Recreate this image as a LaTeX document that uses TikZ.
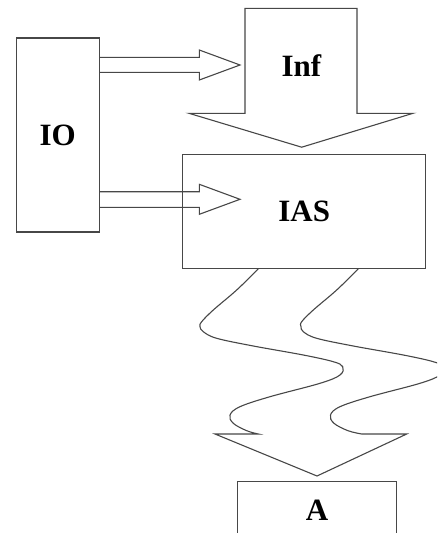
\documentclass[tikz,border=0pt]{standalone}
\usepackage{fontspec}
\setmainfont{Liberation Serif}
\begin{document}
\begin{tikzpicture}[x=1pt,y=-1pt,
  edge/.style={draw=black!72, line width=1.1pt, line join=miter},
  box/.style={edge, rectangle, inner sep=0pt},
  lbl/.style={font=\bfseries\fontsize{31}{31}\selectfont, inner sep=0pt}]
\useasboundingbox (0,0) rectangle (437,533);
\clip (0,0) rectangle (437,533);

% boxes
\node[box, lbl, minimum width=83.3pt, minimum height=194pt] (io) at (57.7,135) {IO};
\node[box, lbl, minimum width=243pt, minimum height=114.3pt] (ias) at (304.2,211.2) {IAS};
\node[box, minimum width=159.4pt, minimum height=80pt, anchor=north] (a) at (317,480.7) {};
\node[lbl, anchor=base] (alabel) at (317,520) {A};

% big downward block arrow carrying the Inf label
\coordinate (inftip) at (ias.north -| 301.7,0);
\draw[edge] (245,8.3) -- (357,8.3) -- (357,113.3) -- (413,113.3)
  -- ([yshift=6.3pt]inftip) -- (189,113.3) -- (245,113.3) -- cycle;
\node[lbl, anchor=base] (inf) at (301.5,76) {Inf};

% hollow arrows from IO
\draw[edge] (io.east |- 0,57.3) -- (199.3,57.3) -- (199.3,50) -- (240,65)
  -- (199.3,80) -- (199.3,72.3) -- (io.east |- 0,72.3);
\draw[edge] (io.east |- 0,191.7) -- (199.3,191.7) -- (199.3,184.3) -- (240,199.3)
  -- (199.3,214.3) -- (199.3,207.3) -- (io.east |- 0,207.3);

% wavy arrow from IAS down to A
\draw[edge] plot[smooth, tension=0.6] coordinates {
    (ias.south -| 258.3,0) (236.7,290) (213.3,310) (201.7,321.7) (200,326.7)
    (203.3,331.7) (216.7,338.3) (253.3,346) (303.3,355) (333.3,361.7)
    (342.7,366.7) (340,375) (320,383.3) (270,396.7) (240,406.7) (230,415)
    (233.3,423.3) (246.7,430.7) (258.3,434)}
  -- (215,434) -- ([yshift=4.7pt]a.north) -- (406.7,434) -- (361.7,434)
  -- plot[smooth, tension=0.6] coordinates {
    (361.7,434) (348,430.7) (334,423.3) (330.5,415) (340,406.7) (370,396.7)
    (420,383.3) (440,375) (442.7,366.7) (433.3,361.7) (403.3,355)
    (353.3,346) (316.7,338.3) (303.3,331.7) (301,326.7) (301.7,321.7)
    (313.3,310) (336.7,290) (ias.south -| 358.3,0)};
\end{tikzpicture}
\end{document}
